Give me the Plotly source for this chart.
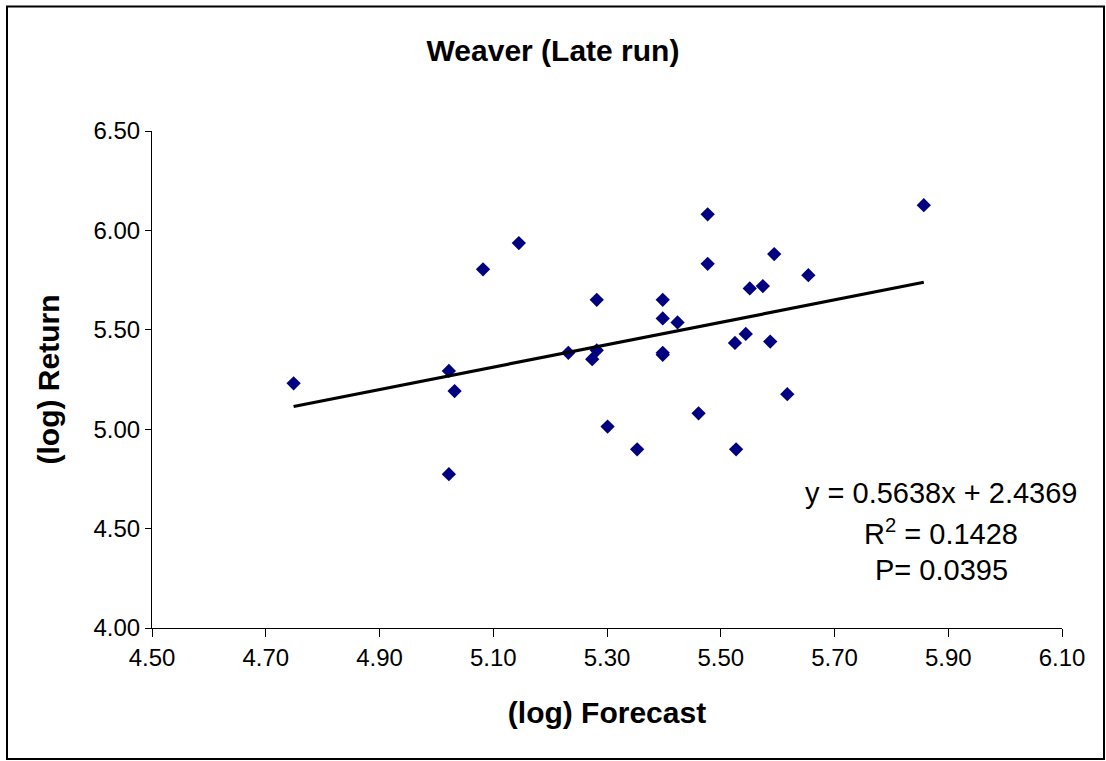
import plotly.graph_objects as go

# ---- data ----
forecast = [4.749, 5.022, 5.032, 5.022, 5.082, 5.145, 5.282, 5.232, 5.274, 5.282,
            5.301, 5.353, 5.477, 5.857, 5.477, 5.594, 5.654, 5.551, 5.574, 5.398,
            5.398, 5.424, 5.544, 5.525, 5.587, 5.398, 5.398, 5.617, 5.461, 5.527]
returns = [5.231, 5.293, 5.192, 4.774, 5.804, 5.936, 5.651, 5.384, 5.352, 5.397,
           5.013, 4.899, 6.081, 6.127, 5.832, 5.881, 5.775, 5.708, 5.720, 5.651,
           5.557, 5.537, 5.479, 5.434, 5.441, 5.384, 5.374, 5.176, 5.080, 4.899]
slope = 0.5638
intercept = 2.4369
r_squared = 0.1428
p_value = 0.0395
x_ticks = [4.50, 4.70, 4.90, 5.10, 5.30, 5.50, 5.70, 5.90, 6.10]
y_ticks = [4.00, 4.50, 5.00, 5.50, 6.00, 6.50]

FONT = "Arial, 'Liberation Sans', sans-serif"

trend_x = [min(forecast), max(forecast)]
trend_y = [slope * v + intercept for v in trend_x]

fig = go.Figure()
fig.add_trace(go.Scatter(
    x=forecast, y=returns, mode="markers",
    marker=dict(symbol="diamond", size=11, color="#000080", line=dict(width=0)),
    showlegend=False))
fig.add_trace(go.Scatter(
    x=trend_x, y=trend_y, mode="lines",
    line=dict(color="black", width=3.2), showlegend=False))

L, R, T, B = 152, 44, 131, 133
W, H = 1106, 761
pw, ph = W - L - R, H - T - B

def px_x(p):
    return (p - L) / pw

def px_y(p):
    return (H - B - p) / ph

fig.update_layout(
    width=W, height=H,
    margin=dict(l=L, r=R, t=T, b=B, autoexpand=False),
    paper_bgcolor="white", plot_bgcolor="white",
    font=dict(family=FONT, color="black"),
    title=dict(text="<b>Weaver (Late run)</b>", x=0.5, xanchor="center",
               y=1 - 50 / H, yanchor="middle", font=dict(size=30, family=FONT)),
    xaxis=dict(range=[4.5, 6.1], tickvals=x_ticks, tickformat=".2f",
               showgrid=False, zeroline=False, showline=True, linecolor="black",
               linewidth=1, ticks="outside", ticklen=8, tickcolor="black",
               tickfont=dict(size=24, family=FONT),
               title=dict(text="<b>(log) Forecast</b>", font=dict(size=30, family=FONT),
                          standoff=32)),
    yaxis=dict(range=[4.0, 6.5], tickvals=y_ticks, tickformat=".2f",
               showgrid=False, zeroline=False, showline=True, linecolor="black",
               linewidth=1, ticks="outside", ticklen=6, tickcolor="black",
               tickfont=dict(size=24, family=FONT),
               title=dict(text="<b>(log) Return</b>", font=dict(size=30, family=FONT),
                          standoff=24)),
)

fig.add_shape(type="rect", xref="paper", yref="paper",
              x0=px_x(7), x1=px_x(1104), y0=px_y(759), y1=px_y(6.5),
              line=dict(color="black", width=2), fillcolor="rgba(0,0,0,0)",
              layer="below")

lines = [
    (f"y = {slope:.4f}x + {intercept:.4f}", 493),
    (f"R<sup>2</sup> = {r_squared:.4f}", 532),
    (f"P= {p_value:.4f}", 570),
]
for txt, ypx in lines:
    fig.add_annotation(text=txt, xref="paper", yref="paper",
                       x=px_x(941), y=px_y(ypx), xanchor="center", yanchor="middle",
                       showarrow=False, font=dict(size=29, family=FONT, color="black"))

fig.write_html("out.html", config={"displayModeBar": False},
               post_script="document.body.style.margin='0';document.body.style.overflow='hidden';")
